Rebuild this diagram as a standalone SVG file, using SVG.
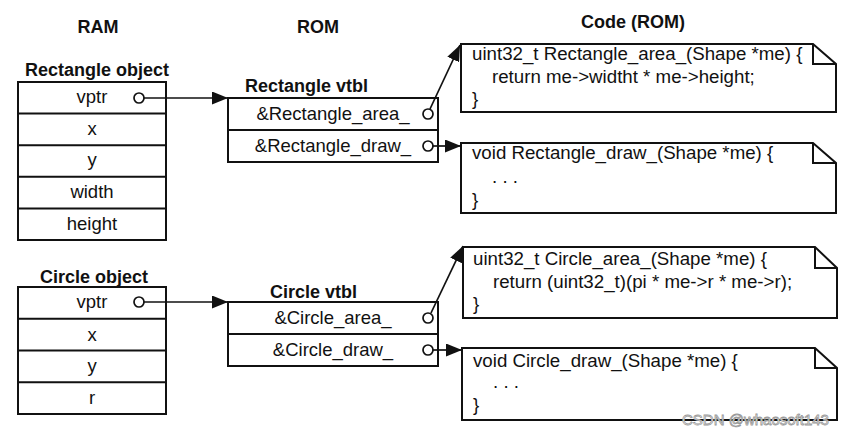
<svg xmlns="http://www.w3.org/2000/svg" width="855" height="436" viewBox="0 0 855 436">
<defs>
<style>
.box{fill:#fff;stroke:#111;stroke-width:2}
.ln{fill:none;stroke:#111;stroke-width:2}
.con{fill:none;stroke:#111;stroke-width:1.7}
.dot{fill:#fff;stroke:#111;stroke-width:1.7}
.t{font-family:"Liberation Sans",Arial,sans-serif;font-size:18.5px;fill:#111}
.k{font-family:"Liberation Sans",Arial,sans-serif;font-size:18.7px;fill:#111}
.h{font-family:"Liberation Sans",Arial,sans-serif;font-size:18px;font-weight:bold;fill:#111}
.c{text-anchor:middle}
.wm{font-family:"Liberation Sans",Arial,sans-serif;font-size:15px;fill:#fff;stroke:#999;stroke-width:0.8}
</style>
<marker id="ah" markerUnits="userSpaceOnUse" markerWidth="16" markerHeight="13" viewBox="0 0 16 13" refX="16" refY="6.5" orient="auto">
<path d="M0,0 L16,6.5 L0,13 z" fill="#111"/>
</marker>
</defs>
<rect width="855" height="436" fill="#fff"/>

<g id="headings">
<text class="h c" x="98" y="33">RAM</text>
<text class="h c" x="318" y="33">ROM</text>
<text class="h c" x="633" y="28">Code (ROM)</text>
</g>

<g id="rect-object">
<text class="h c" x="97" y="76">Rectangle object</text>
<rect class="box" x="18" y="82" width="148" height="158"/>
<path class="ln" d="M18,113.6H166M18,145.2H166M18,176.8H166M18,208.4H166"/>
<text class="t c" x="92" y="103">vptr</text>
<text class="t c" x="92" y="135">x</text>
<text class="t c" x="92" y="166">y</text>
<text class="t c" x="92" y="198">width</text>
<text class="t c" x="92" y="230">height</text>
</g>

<g id="rect-vtbl">
<text class="h" x="245" y="92">Rectangle vtbl</text>
<rect class="box" x="228" y="98" width="210" height="64"/>
<path class="ln" d="M228,130H438"/>
<text class="t c" x="333" y="120">&amp;Rectangle_area_</text>
<text class="t c" x="333" y="152">&amp;Rectangle_draw_</text>
</g>

<g id="circle-object">
<text class="h c" x="94" y="283">Circle object</text>
<rect class="box" x="18" y="287" width="148" height="127"/>
<path class="ln" d="M18,318.75H166M18,350.5H166M18,382.25H166"/>
<text class="t c" x="92" y="308">vptr</text>
<text class="t c" x="92" y="341">x</text>
<text class="t c" x="92" y="372">y</text>
<text class="t c" x="92" y="404">r</text>
</g>

<g id="circle-vtbl">
<text class="h" x="270" y="298">Circle vtbl</text>
<rect class="box" x="228" y="302" width="210" height="64"/>
<path class="ln" d="M228,334H438"/>
<text class="t c" x="333" y="324">&amp;Circle_area_</text>
<text class="t c" x="333" y="356">&amp;Circle_draw_</text>
</g>

<g id="code-rect-area">
<path class="box" d="M461,44H813L836,64V112H461Z"/>
<path class="ln" d="M813,44V64H836"/>
<text class="k" x="472" y="60">uint32_t Rectangle_area_(Shape *me) {</text>
<text class="k" x="492" y="83">return me-&gt;widtht * me-&gt;height;</text>
<text class="k" x="472" y="105">}</text>
</g>

<g id="code-rect-draw">
<path class="box" d="M461,143H813L836,163V213H461Z"/>
<path class="ln" d="M813,143V163H836"/>
<text class="k" x="472" y="159">void Rectangle_draw_(Shape *me) {</text>
<text class="k" x="492" y="183">. . .</text>
<text class="k" x="472" y="206">}</text>
</g>

<g id="code-circle-area">
<path class="box" d="M463,247H815L837,268V318H463Z"/>
<path class="ln" d="M815,247V268H837"/>
<text class="k" x="473" y="265">uint32_t Circle_area_(Shape *me) {</text>
<text class="k" x="493" y="288">return (uint32_t)(pi * me-&gt;r * me-&gt;r);</text>
<text class="k" x="473" y="310">}</text>
</g>

<g id="code-circle-draw">
<path class="box" d="M462,348H815L837,368V420H462Z"/>
<path class="ln" d="M815,348V368H837"/>
<text class="k" x="473" y="367">void Circle_draw_(Shape *me) {</text>
<text class="k" x="493" y="388">. . .</text>
<text class="k" x="473" y="411">}</text>
</g>

<g id="connectors">
<line class="con" x1="144" y1="98" x2="228" y2="98" marker-end="url(#ah)"/>
<line class="con" x1="144" y1="302" x2="228" y2="302" marker-end="url(#ah)"/>
<line class="con" x1="430" y1="109" x2="460" y2="45" marker-end="url(#ah)"/>
<line class="con" x1="433" y1="146" x2="461" y2="146" marker-end="url(#ah)"/>
<line class="con" x1="431" y1="313" x2="463" y2="246" marker-end="url(#ah)"/>
<line class="con" x1="433" y1="350" x2="462" y2="350" marker-end="url(#ah)"/>
<circle class="dot" cx="139" cy="98" r="5"/>
<circle class="dot" cx="139" cy="302" r="5"/>
<circle class="dot" cx="428" cy="114" r="5"/>
<circle class="dot" cx="428" cy="146" r="5"/>
<circle class="dot" cx="428" cy="318" r="5"/>
<circle class="dot" cx="428" cy="350" r="5"/>
</g>

<text class="wm" x="682" y="425">CSDN @whaosoft143</text>
</svg>
